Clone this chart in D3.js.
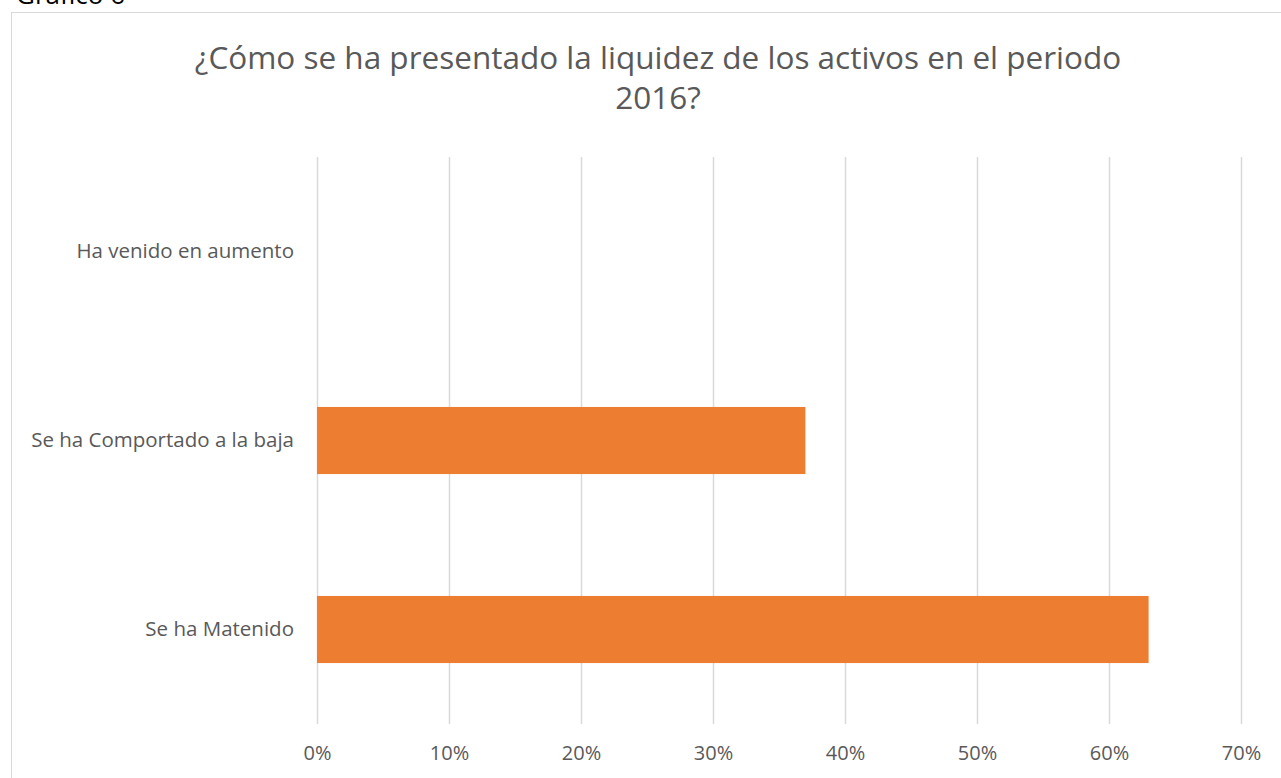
<!DOCTYPE html>
<html>
<head>
<meta charset="utf-8">
<script src="https://cdn.jsdelivr.net/npm/d3@7"></script>
<style>
  html, body { margin: 0; padding: 0; background: #fff; }
  svg { display: block; font-family: "Open Sans", "Noto Sans", sans-serif; }
</style>
</head>
<body>
<svg id="chart" width="1281" height="778"></svg>
<script>
const categories = ["Ha venido en aumento", "Se ha Comportado a la baja", "Se ha Matenido"];
const values = [0, 0.37, 0.63];
const tickValues = [0, 0.1, 0.2, 0.3, 0.4, 0.5, 0.6, 0.7];
const titleLines = ["¿Cómo se ha presentado la liquidez de los activos en el periodo", "2016?"];
const captionText = "Gráfico 6";

const svg = d3.select("#chart");
const W = 1281, H = 778;
const margin = { left: 317, right: W - 1241, top: 157, bottom: H - 724 };

// caption above the chart frame (cut off at top, as in the reference)
svg.append("text")
  .attr("x", 16).attr("y", 4)
  .attr("font-size", 26)
  .attr("fill", "#000")
  .text(captionText);

// chart frame
svg.append("rect")
  .attr("x", 11.5).attr("y", 12.5)
  .attr("width", W + 10).attr("height", H + 10)
  .attr("fill", "#fff")
  .attr("stroke", "#d9d9d9").attr("stroke-width", 1);

// title
svg.append("text")
  .attr("x", 658).attr("y", 69)
  .attr("text-anchor", "middle")
  .attr("font-size", 31.5)
  .attr("fill", "#595959")
  .selectAll("tspan").data(titleLines).join("tspan")
  .attr("x", 658)
  .attr("dy", (d, i) => i === 0 ? 0 : 40)
  .text(d => d);

const x = d3.scaleLinear().domain([0, 0.7]).range([margin.left, W - margin.right]);
const y = d3.scaleBand().domain(categories).range([margin.top, H - margin.bottom]).paddingInner(0.645).paddingOuter(0.3225);

// gridlines
svg.append("g")
  .selectAll("line").data(tickValues).join("line")
  .attr("x1", d => Math.round(x(d)) + 0.5).attr("x2", d => Math.round(x(d)) + 0.5)
  .attr("y1", margin.top).attr("y2", H - margin.bottom)
  .attr("stroke", "#d9d9d9").attr("stroke-width", 1.5);

// bars
svg.append("g")
  .selectAll("rect").data(categories).join("rect")
  .attr("x", x(0))
  .attr("y", d => y(d))
  .attr("width", (d, i) => x(values[i]) - x(0))
  .attr("height", y.bandwidth())
  .attr("fill", "#ed7d31");

// x axis labels
const xAxis = d3.axisBottom(x).tickValues(tickValues).tickFormat(d3.format(".0%")).tickSize(0).tickPadding(0);
const gx = svg.append("g")
  .attr("transform", `translate(0,${H - margin.bottom + 22})`)
  .call(xAxis);
gx.select(".domain").remove();
gx.selectAll("text").attr("font-size", 20).attr("fill", "#595959").attr("font-family", '"Open Sans", sans-serif');

// y axis labels
const yAxis = d3.axisLeft(y).tickSize(0).tickPadding(23);
const gy = svg.append("g")
  .attr("transform", `translate(${margin.left},0)`)
  .call(yAxis);
gy.select(".domain").remove();
gy.selectAll("text").attr("font-size", 20.5).attr("fill", "#595959").attr("font-family", '"Open Sans", sans-serif');
</script>
</body>
</html>
